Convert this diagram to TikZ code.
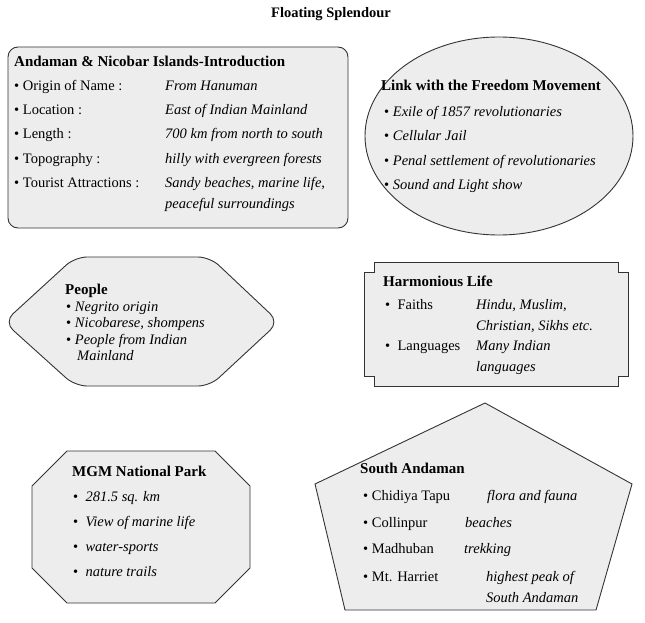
\documentclass[tikz,border=0pt]{standalone}
\usepackage{fontspec}
\setmainfont{Liberation Serif}
\begin{document}
\begin{tikzpicture}[x=1pt,y=-1pt,
  shp/.style={draw=black!80,line width=0.9pt,fill=black!7},
  t/.style={anchor=base west,font=\fontsize{14.5}{16}\selectfont,inner sep=0},
  hd/.style={t,font=\fontsize{15}{16}\selectfont\bfseries},
  it/.style={t,font=\fontsize{14.5}{16}\selectfont\itshape}]
\useasboundingbox (0,0) rectangle (645,623);
\node[font=\fontsize{14.5}{16}\selectfont\bfseries] (title) at (331,14) {Floating Splendour};
% box 1
\draw[shp,rounded corners=10pt] (8,47) rectangle (348,228);
\node[hd] (b1t) at (14,67) {Andaman \& Nicobar Islands-Introduction};
\foreach \y/\a/\b in {91/Origin of Name :/From Hanuman,115/Location :/East of Indian Mainland,139/Length :/700 km from north to south,163/Topography :/hilly with evergreen forests,187/Tourist Attractions :/{Sandy beaches, marine life,}}{
  \node[t] at (14,\y) {\textbullet\ \a};
  \node[it] at (165,\y) {\b};}
\node[it] (b1x) at (165,208) {peaceful surroundings};
% ellipse
\draw[shp] (499,136) ellipse [x radius=134,y radius=99];
\node[hd] (elt) at (381,91) {Link with the Freedom Movement};
\foreach \y/\a in {117/Exile of 1857 revolutionaries,140/Cellular Jail,165/Penal settlement of revolutionaries,189/Sound and Light show}
  \node[t] at (384,\y) {\textbullet\ \textit{\a}};
% people hexagon
\draw[shp,rounded corners=12pt] (4,322) -- (75,257) -- (210,257) -- (279,322) -- (210,386) -- (75,386) -- cycle;
\node[hd] (pt) at (65,294) {People};
\foreach \y/\a in {311/Negrito origin,327/{Nicobarese, shompens},344/People from Indian}
  \node[t] at (66,\y) {\textbullet\ \textit{\a}};
\node[it] (pm) at (77,360) {Mainland};
% harmonious
\draw[shp] (374,262) -- (618,262) -- (618,272) -- (628,272) -- (628,376) -- (618,376) -- (618,386) -- (374,386) -- (374,376) -- (364,376) -- (364,272) -- (374,272) -- cycle;
\node[hd] (ht) at (383,286) {Harmonious Life};
\node[t] at (385,309) {\textbullet\ \ Faiths};
\node[it] at (476,309) {Hindu, Muslim,};
\node[it] at (476,330) {Christian, Sikhs etc.};
\node[t] at (385,350) {\textbullet\ \ Languages};
\node[it] at (476,350) {Many Indian};
\node[it] at (476,371) {languages};
% octagon
\draw[shp] (67,451) -- (215,451) -- (250,486) -- (250,568) -- (215,603) -- (67,603) -- (32,568) -- (32,486) -- cycle;
\node[hd] (ot) at (72,476) {MGM National Park};
\foreach \y/\a in {501/281.5 sq. km,526/View of marine life,551/water-sports,576/nature trails}
  \node[t] at (73,\y) {\textbullet\ \ \textit{\a}};
% pentagon
\draw[shp] (485,403) -- (632,484) -- (596,610) -- (345,610) -- (315,484) -- cycle;
\node[hd] (st) at (360,473) {South Andaman};
\foreach \y/\a/\x/\b in {500/Chidiya Tapu/487/flora and fauna,527/Collinpur/465/beaches,553/Madhuban/464/trekking,581/Mt. Harriet/486/highest peak of}{
  \node[t] at (363,\y) {\textbullet\ \a};
  \node[it] at (\x,\y) {\b};}
\node[it] (sa) at (486,602) {South Andaman};
\end{tikzpicture}
\end{document}
